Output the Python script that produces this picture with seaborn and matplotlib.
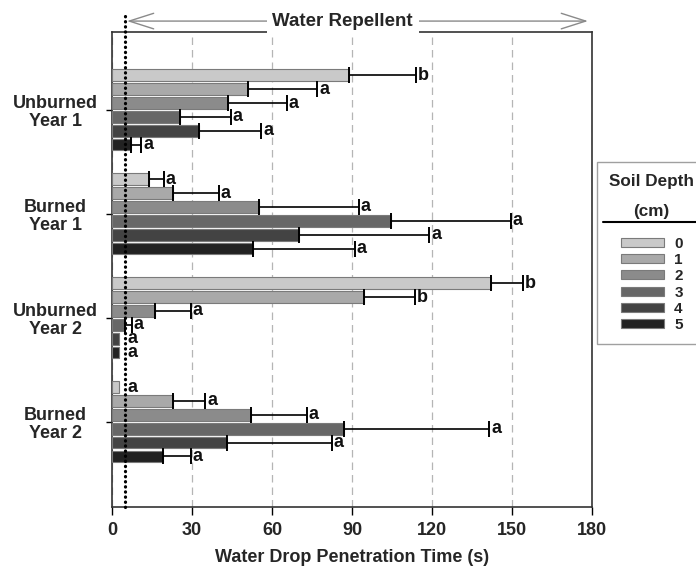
import numpy as np
import pandas as pd
import seaborn as sns
import matplotlib
matplotlib.use("Agg")
import matplotlib.pyplot as plt
from matplotlib.lines import Line2D

# ---------------- data ----------------
treatments = ["Unburned\nYear 1", "Burned\nYear 1", "Unburned\nYear 2", "Burned\nYear 2"]
depths = ["0", "1", "2", "3", "4", "5"]

means_unburned_y1 = [89, 51, 43.5, 25.5, 32.5, 7]
err_unburned_y1 = [25, 26, 22, 19, 23.5, 4]
letters_unburned_y1 = ["b", "a", "a", "a", "a", "a"]

means_burned_y1 = [14, 23, 55, 104.5, 70, 53]
err_burned_y1 = [5.5, 17, 37.5, 45, 49, 38]
letters_burned_y1 = ["a", "a", "a", "a", "a", "a"]

means_unburned_y2 = [142, 94.5, 16, 5, 2.5, 2.5]
err_unburned_y2 = [12, 19, 13.5, 2.5, 0, 0]
letters_unburned_y2 = ["b", "b", "a", "a", "a", "a"]

means_burned_y2 = [2.5, 23, 52, 87, 43, 19]
err_burned_y2 = [0, 12, 21, 54.5, 39.5, 10.5]
letters_burned_y2 = ["a", "a", "a", "a", "a", "a"]

xticks = [0, 30, 60, 90, 120, 150, 180]
threshold = 5

all_means = [means_unburned_y1, means_burned_y1, means_unburned_y2, means_burned_y2]
all_errs = [err_unburned_y1, err_burned_y1, err_unburned_y2, err_burned_y2]
all_letters = [letters_unburned_y1, letters_burned_y1, letters_unburned_y2, letters_burned_y2]

rows = []
for t, m, e, l in zip(treatments, all_means, all_errs, all_letters):
    for d, mv, ev, lv in zip(depths, m, e, l):
        rows.append(dict(treatment=t, depth=d, wdpt=mv, err=ev, letter=lv))
df = pd.DataFrame(rows)

palette = ["#c9c9c9", "#a9a9a9", "#8b8b8b", "#676767", "#434343", "#222222"]

# ---------------- figure ----------------
sns.set_theme(style="white")
plt.rcParams["font.family"] = ["Liberation Sans", "DejaVu Sans"]
plt.rcParams["font.weight"] = "bold"

fig = plt.figure(figsize=(6.96, 5.67), dpi=100)
ax = fig.add_axes([112 / 696, 1 - 507 / 567, 480 / 696, 475 / 567])

sns.barplot(data=df, y="treatment", x="wdpt", hue="depth", order=treatments,
            hue_order=depths, palette=palette, orient="h", errorbar=None,
            width=0.8, gap=0.15, edgecolor="#7a7a7a", linewidth=0.8,
            legend=False, ax=ax, zorder=3)
bar_containers = list(ax.containers)

# error bars and letters from bar geometry
for ci, cont in enumerate(bar_containers):
    sub = df[df["depth"] == depths[ci]].set_index("treatment").loc[treatments]
    for bar, (_, r) in zip(cont, sub.iterrows()):
        yc = bar.get_y() + bar.get_height() / 2
        xv = bar.get_width()
        if r["err"] > 0:
            ax.errorbar(xv, yc, xerr=[[0], [r["err"]]], fmt="none", ecolor="black",
                        elinewidth=1.2, capsize=5.5, capthick=1.4, zorder=4)
            xt = xv + r["err"] + 0.7
        else:
            xt = max(xv, threshold) + 1.0
        ax.text(xt, yc, r["letter"], ha="left", va="center", fontsize=13,
                fontweight="bold", color="#111111", zorder=5)

ax.set_xlim(0, 180)
ax.set_ylim(3.82, -0.75)
ax.set_xticks(xticks)
ax.set_xticklabels([str(v) for v in xticks], fontsize=13, fontweight="bold")
ax.set_xlabel("Water Drop Penetration Time (s)", fontsize=13, fontweight="bold", labelpad=7)
ax.set_ylabel("")
for lab in ax.get_yticklabels():
    lab.set_ha("center")
    lab.set_multialignment("center")
    lab.set_fontsize(13)
    lab.set_fontweight("bold")
    lab.set_linespacing(1.1)
ax.tick_params(axis="y", pad=37, length=4, width=1, color="black", left=True, direction="out")
ax.tick_params(axis="x", length=6, width=1, color="black", bottom=True, direction="out", pad=5)

ax.set_axisbelow(True)
ax.grid(axis="x", linestyle=(0, (6, 4)), color="#b5b5b5", lw=0.9)
ax.grid(axis="y", visible=False)
for s in ax.spines.values():
    s.set_color("#333333")
    s.set_linewidth(1.2)

# threshold dotted line
ax.axvline(threshold, ymin=0, ymax=1.042, color="black", lw=2.3,
           linestyle=(0, (0.1, 1.5)), dash_capstyle="round", clip_on=False, zorder=6)

# Water repellent arrow
ax.annotate("", xy=(178.5, 1.023), xytext=(5.6, 1.023),
            xycoords=("data", "axes fraction"), textcoords=("data", "axes fraction"),
            arrowprops=dict(arrowstyle="<->,head_length=1.1,head_width=0.35",
                            color="#8a8a8a", lw=1.0, mutation_scale=16,
                            shrinkA=0, shrinkB=0),
            annotation_clip=False)
ax.text(86.5, 1.023, "Water Repellent", transform=ax.get_xaxis_transform(),
        ha="center", va="center", fontsize=13.5, fontweight="bold",
        bbox=dict(facecolor="white", edgecolor="none", pad=4))

# legend
handles = [plt.Rectangle((0, 0), 1, 1, facecolor=c, edgecolor="#7a7a7a", lw=0.8) for c in palette]
leg = ax.legend(handles, depths, title="Soil Depth\n(cm)", loc="upper left",
                bbox_to_anchor=(597 / 696, 1 - 162 / 567), bbox_transform=fig.transFigure,
                borderaxespad=0, fontsize=11, title_fontsize=12.3, handlelength=2.8,
                handleheight=0.55, handletextpad=0.7, labelspacing=0.15,
                fancybox=False, frameon=True, borderpad=0.8)
leg.get_frame().set_edgecolor("#888888")
leg.get_frame().set_linewidth(1.0)
leg.get_title().set_fontweight("bold")
leg.get_title().set_multialignment("center")
leg.get_title().set_linespacing(2.2)
leg._legend_box.sep = 13
for t in leg.get_texts():
    t.set_fontweight("bold")
fig.add_artist(Line2D([603 / 696, 1.0], [1 - 222 / 567, 1 - 222 / 567],
                      transform=fig.transFigure, color="black", lw=1.5))

fig.savefig("out.png", dpi=100)
